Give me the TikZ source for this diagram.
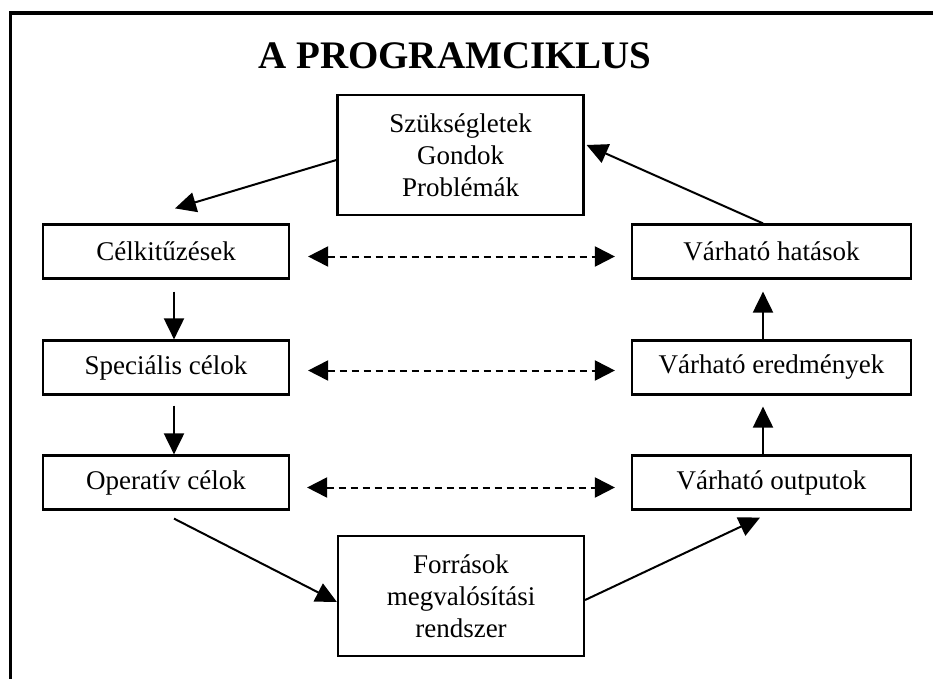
\documentclass[tikz,border=0pt]{standalone}
\usepackage{fontspec}
\setmainfont{Liberation Serif}
\usetikzlibrary{arrows.meta,calc}
\begin{document}
\begin{tikzpicture}[x=1pt,y=-1pt,
  box/.style={draw,line width=2.2pt,align=center,inner sep=0pt,
    font=\fontsize{27}{32}\selectfont},
  lbox/.style={box,minimum width=246pt,minimum height=54pt},
  rbox/.style={box,minimum width=279pt,minimum height=54pt},
  bigbox/.style={box,minimum width=246pt,minimum height=120pt},
  arr/.style={line width=2pt,-{Triangle[length=21pt,width=20pt]}},
  darr/.style={line width=2pt,dash pattern=on 7.5pt off 4.5pt,
    {Triangle[length=20pt,width=20pt]}-{Triangle[length=20pt,width=20pt]}}]
\useasboundingbox (0,0) rectangle (933,679);
% open frame: top and left edges only
\draw[line width=3.7pt] (10.5,679) -- (10.5,13) -- (933,13);
\node[font=\bfseries\fontsize{39}{45}\selectfont] (title) at (455,56) {A PROGRAMCIKLUS};
% boxes
\node[bigbox] (szuk) at (460.5,155) {Szükségletek\\Gondok\\Problémák};
\node[lbox] (cel) at (166,251.5) {Célkitűzések};
\node[lbox] (spec) at (166,367.5) {Speciális célok};
\node[lbox] (oper) at (166,482.5) {Operatív célok};
\node[rbox] (hat) at (771.5,251.5) {Várható hatások};
\node[rbox] (ered) at (771.5,367.5) {Várható eredmények};
\node[rbox] (outp) at (771.5,482.5) {Várható outputok};
\node[bigbox] (forr) at (461,596) {Források\\megvalósítási\\rendszer};
% arrow columns
\coordinate (colL) at (174,0);
\coordinate (colR) at (763,0);
% cycle connectors
\draw[arr] ([yshift=-5pt]szuk.west) -- ([xshift=9pt,yshift=15pt]cel.north);
\draw[arr] ([yshift=-12pt]cel.south -| colL) -- (spec.north -| colL);
\draw[arr] ([yshift=-10pt]spec.south -| colL) -- (oper.north -| colL);
\draw[arr] ([xshift=8pt,yshift=-8pt]oper.south) -- ([yshift=-6pt]forr.west);
\draw[arr] ([yshift=-4pt]forr.east) -- ([xshift=-11.5pt,yshift=-7pt]outp.south);
\draw[arr] (outp.north -| colR) -- ([yshift=-11pt]ered.south -| colR);
\draw[arr] (ered.north -| colR) -- ([yshift=-12pt]hat.south -| colR);
\draw[arr] (hat.north -| colR) -- ([xshift=2pt,yshift=10pt]szuk.east);
% correspondences
\draw[darr] ([xshift=18pt,yshift=-5pt]cel.east) -- ([xshift=-16pt,yshift=-5pt]hat.west);
\draw[darr] ([xshift=18pt,yshift=-3pt]spec.east) -- ([xshift=-16pt,yshift=-3pt]ered.west);
\draw[darr] ([xshift=17pt,yshift=-5pt]oper.east) -- ([xshift=-16pt,yshift=-5pt]outp.west);
\end{tikzpicture}
\end{document}
